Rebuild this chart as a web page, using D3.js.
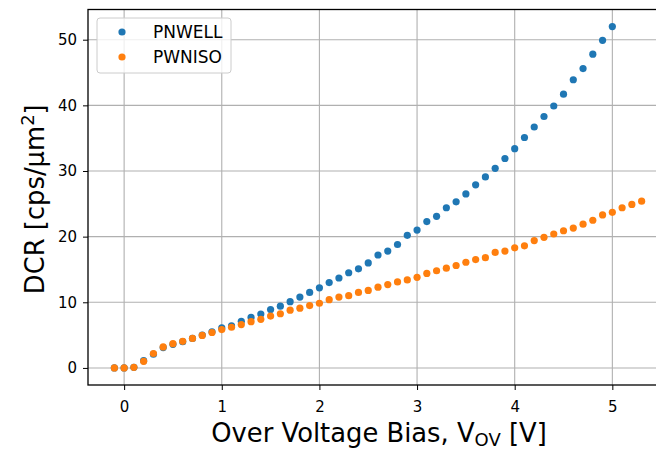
<!DOCTYPE html>
<html lang="en">
<head>
    <meta charset="UTF-8">
    <title>DCR vs Over Voltage Bias</title>
    <style>
        html, body { margin: 0; padding: 0; background: #fff; }
        svg { display: block; font-family: "DejaVu Sans", sans-serif; }
        .tick text { font-size: 15px; fill: #000; }
    </style>
</head>
<body>
    <div id="chart"></div>

    <script src="https://d3js.org/d3.v7.min.js"></script>
    <script>
        // over voltage bias [V]
        var pnwellX = [-0.1, 0.0, 0.1, 0.2, 0.3, 0.4, 0.5, 0.6, 0.7, 0.8, 0.9, 1.0,
            1.1, 1.2, 1.3, 1.4, 1.5, 1.6, 1.7, 1.8, 1.9, 2.0,
            2.1, 2.2, 2.3, 2.4, 2.5, 2.6, 2.7, 2.8, 2.9, 3.0,
            3.1, 3.2, 3.3, 3.4, 3.5, 3.6, 3.7, 3.8, 3.9, 4.0,
            4.1, 4.2, 4.3, 4.4, 4.5, 4.6, 4.7, 4.8, 4.9, 5.0];
        // DCR [cps/um^2]
        var pnwellY = [0.0, 0.0, 0.1, 1.1, 2.1, 3.1, 3.6, 4.0, 4.5, 5.0, 5.5, 6.1,
            6.4, 7.1, 7.7, 8.2, 8.9, 9.4, 10.1, 10.8, 11.5, 12.2,
            13.0, 13.7, 14.5, 15.1, 16.0, 17.2, 17.8, 18.8, 20.2, 21.0,
            22.3, 23.1, 24.4, 25.3, 26.5, 27.9, 29.1, 30.4, 31.9, 33.4,
            35.1, 36.7, 38.3, 39.9, 41.7, 43.9, 45.6, 47.8, 49.9, 52.0];

        var pwnisoX = [-0.1, 0.0, 0.1, 0.2, 0.3, 0.4, 0.5, 0.6, 0.7, 0.8, 0.9, 1.0,
            1.1, 1.2, 1.3, 1.4, 1.5, 1.6, 1.7, 1.8, 1.9, 2.0,
            2.1, 2.2, 2.3, 2.4, 2.5, 2.6, 2.7, 2.8, 2.9, 3.0,
            3.1, 3.2, 3.3, 3.4, 3.5, 3.6, 3.7, 3.8, 3.9, 4.0,
            4.1, 4.2, 4.3, 4.4, 4.5, 4.6, 4.7, 4.8, 4.9, 5.0,
            5.1, 5.2, 5.3];
        var pwnisoY = [0.0, 0.0, 0.1, 1.0, 2.2, 3.2, 3.7, 4.05, 4.5, 4.95, 5.4, 5.85,
            6.2, 6.6, 7.05, 7.4, 7.9, 8.25, 8.8, 9.1, 9.5, 9.85,
            10.4, 10.8, 11.0, 11.5, 11.8, 12.3, 12.7, 13.1, 13.4, 13.8,
            14.4, 14.8, 15.2, 15.6, 16.1, 16.5, 16.8, 17.6, 17.8, 18.3,
            18.6, 19.4, 19.9, 20.4, 20.9, 21.3, 21.9, 22.5, 23.3, 23.7,
            24.4, 24.9, 25.4];

        var seriesNames = ["PNWELL", "PWNISO"];
        var seriesColors = ["#1f77b4", "#ff7f0e"];
        var xTicks = [0, 1, 2, 3, 4, 5];
        var yTicks = [0, 10, 20, 30, 40, 50];

        function drawChart() {
            var width = 656,
                height = 449;
            // plot box runs past the right edge of the picture, like the source
            var left = 88, right = 668, top = 9.5, bottom = 385;

            var svg = d3.select("#chart")
                .append("svg")
                .attr("width", width)
                .attr("height", height);

            var allX = pnwellX.concat(pwnisoX);
            var allY = pnwellY.concat(pwnisoY);
            var xMin = d3.min(allX), xMax = d3.max(allX);
            var yMin = d3.min(allY), yMax = d3.max(allY);
            var xPad = (xMax - xMin) * 0.05, yPad = (yMax - yMin) * 0.05;

            var x = d3.scaleLinear()
                .domain([xMin - xPad, xMax + xPad])
                .range([left, right]);
            var y = d3.scaleLinear()
                .domain([yMin - yPad, yMax + yPad])
                .range([bottom, top]);

            // grid
            var grid = svg.append("g")
                .attr("stroke", "#b0b0b0")
                .attr("stroke-width", 1.1);
            grid.selectAll("line.gx")
                .data(xTicks)
                .join("line")
                .attr("class", "gx")
                .attr("x1", d => x(d)).attr("x2", d => x(d))
                .attr("y1", top).attr("y2", bottom);
            grid.selectAll("line.gy")
                .data(yTicks)
                .join("line")
                .attr("class", "gy")
                .attr("x1", left).attr("x2", right)
                .attr("y1", d => y(d)).attr("y2", d => y(d));

            // points
            var series = [
                { name: seriesNames[0], color: seriesColors[0], xs: pnwellX, ys: pnwellY },
                { name: seriesNames[1], color: seriesColors[1], xs: pwnisoX, ys: pwnisoY }
            ];
            series.forEach(function (s) {
                svg.append("g")
                    .selectAll("circle")
                    .data(s.xs.map((v, i) => [v, s.ys[i]]))
                    .join("circle")
                    .attr("cx", d => x(d[0]))
                    .attr("cy", d => y(d[1]))
                    .attr("r", 3.6)
                    .attr("fill", s.color);
            });

            // axes
            var xAxis = svg.append("g")
                .attr("transform", `translate(0,${bottom})`)
                .call(d3.axisBottom(x).tickValues(xTicks).tickSize(5).tickPadding(11).tickFormat(d3.format("d")));
            var yAxis = svg.append("g")
                .attr("transform", `translate(${left},0)`)
                .call(d3.axisLeft(y).tickValues(yTicks).tickSize(5).tickPadding(6).tickFormat(d3.format("d")));
            [xAxis, yAxis].forEach(function (a) {
                a.select(".domain").remove();
                a.selectAll(".tick line").attr("stroke", "#000").attr("stroke-width", 1);
                a.attr("font-family", null).attr("font-size", null);
            });

            // frame
            svg.append("rect")
                .attr("x", left).attr("y", top)
                .attr("width", right - left).attr("height", bottom - top)
                .attr("fill", "none")
                .attr("stroke", "#000")
                .attr("stroke-width", 1.3);

            // axis labels
            var xl = svg.append("text")
                .attr("x", 379)
                .attr("y", 442)
                .attr("text-anchor", "middle")
                .attr("font-size", 25.8)
                .attr("fill", "#000");
            xl.append("tspan").text("Over Voltage Bias, V");
            xl.append("tspan").attr("font-size", 18).attr("dy", 4).text("OV");
            xl.append("tspan").attr("dy", -4).text(" [V]");

            var yl = svg.append("text")
                .attr("transform", `translate(44,${(top + bottom) / 2 + 2}) rotate(-90)`)
                .attr("text-anchor", "middle")
                .attr("font-size", 25.8)
                .attr("fill", "#000");
            yl.append("tspan").text("DCR [cps/\u03bcm");
            yl.append("tspan").attr("font-size", 18).attr("dy", -10).text("2");
            yl.append("tspan").attr("dy", 10).text("]");

            // legend
            var lg = svg.append("g");
            lg.append("rect")
                .attr("x", 97).attr("y", 18)
                .attr("width", 134).attr("height", 55)
                .attr("rx", 3)
                .attr("fill", "#fff").attr("fill-opacity", 0.8)
                .attr("stroke", "#cccccc").attr("stroke-width", 1);
            series.forEach(function (s, i) {
                var cy = 32 + i * 25;
                lg.append("circle")
                    .attr("cx", 122).attr("cy", cy)
                    .attr("r", 3.6)
                    .attr("fill", s.color);
                lg.append("text")
                    .attr("x", 153).attr("y", cy)
                    .attr("dy", "0.36em")
                    .attr("font-size", 17)
                    .attr("fill", "#000")
                    .text(s.name);
            });
        }

        drawChart();
    </script>
</body>
</html>
